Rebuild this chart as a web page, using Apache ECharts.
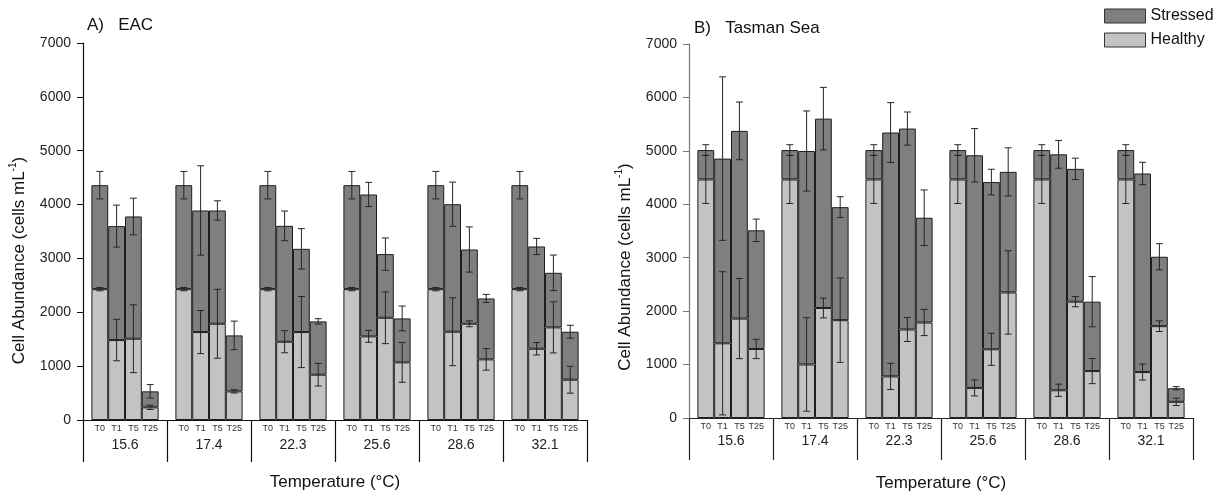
<!DOCTYPE html>
<html>
<head>
<meta charset="utf-8">
<script src="https://cdn.jsdelivr.net/npm/echarts@6/dist/echarts.min.js"></script>
<style>
html,body{margin:0;padding:0;background:#fff;}
#chart{width:1225px;height:497px;}
</style>
</head>
<body>
<div id="chart"></div>
<script>
// ---------- data ----------
const temps = ['15.6', '17.4', '22.3', '25.6', '28.6', '32.1'];
const times = ['T0', 'T1', 'T5', 'T25'];
const yTicks = [0, 1000, 2000, 3000, 4000, 5000, 6000, 7000];

// Panel A: EAC  (rows = time points T0,T1,T5,T25 ; columns = temperatures)
const eacHealthy = [
  [2430, 2430, 2430, 2430, 2430, 2430],
  [1484, 1633, 1453, 1553, 1639, 1323],
  [1509, 1787, 1633, 1898, 1787, 1720],
  [235, 532, 841, 1070, 1126, 748]
];
const eacStressed = [
  [1930, 1930, 1930, 1930, 1930, 1930],
  [2116, 2257, 2152, 2634, 2368, 1899],
  [2270, 2103, 1545, 1182, 1379, 1013],
  [297, 1039, 990, 816, 1131, 891]
];
const eacHealthyErr = [
  [30, 30, 30, 30, 30, 30],
  [385, 400, 205, 110, 630, 115],
  [630, 640, 660, 480, 55, 475],
  [40, 30, 210, 370, 200, 250]
];
const eacTotalErr = [
  [255, 255, 255, 255, 255, 255],
  [390, 830, 275, 225, 410, 150],
  [340, 180, 375, 300, 420, 330],
  [125, 265, 50, 230, 75, 120]
];

// Panel B: Tasman Sea
const tasHealthy = [
  [4465, 4465, 4465, 4465, 4465, 4465],
  [1398, 1002, 779, 563, 519, 860],
  [1861, 2059, 1657, 1286, 2177, 1719],
  [1292, 1831, 1787, 2350, 878, 303]
];
const tasStressed = [
  [550, 550, 550, 550, 550, 550],
  [3457, 3995, 4564, 4354, 4416, 3716],
  [3513, 3544, 3760, 3130, 2486, 1299],
  [2221, 2115, 1961, 2257, 1299, 254]
];
const tasHealthyErr = [
  [450, 450, 450, 450, 450, 450],
  [1340, 875, 245, 150, 115, 150],
  [750, 185, 225, 300, 95, 100],
  [180, 790, 245, 780, 235, 70]
];
const tasTotalErr = [
  [100, 100, 100, 100, 100, 100],
  [1530, 750, 560, 500, 260, 210],
  [540, 585, 310, 240, 200, 245],
  [210, 195, 520, 450, 470, 30]
];

// ---------- chart ----------
const FONT = '"Liberation Sans", Arial, sans-serif';
const HEALTHY_COLOR = '#c3c3c3';
const STRESSED_COLOR = '#7f7f7f';
const BAR_BORDER = '#1e1e1e';
const CAT_GAP = 0.2;

function barSeries(p, healthy, stressed) {
  const out = [];
  for (let k = 0; k < times.length; k++) {
    out.push({
      type: 'bar', name: 'Healthy', stack: 'p' + p + 't' + k,
      xAxisIndex: p, yAxisIndex: p,
      data: healthy[k],
      barGap: '0%', barCategoryGap: (CAT_GAP * 100) + '%',
      itemStyle: { color: HEALTHY_COLOR, borderColor: BAR_BORDER, borderWidth: 1 },
      label: { show: true, position: 'bottom', distance: 4, formatter: times[k],
               fontSize: 9, color: '#333', fontFamily: FONT },
      emphasis: { disabled: true }
    });
    out.push({
      type: 'bar', name: 'Stressed', stack: 'p' + p + 't' + k,
      xAxisIndex: p, yAxisIndex: p,
      data: stressed[k],
      barGap: '0%', barCategoryGap: (CAT_GAP * 100) + '%',
      itemStyle: { color: STRESSED_COLOR, borderColor: BAR_BORDER, borderWidth: 1 },
      emphasis: { disabled: true }
    });
  }
  return out;
}

function errSeries(p, healthy, stressed, hErr, tErr) {
  const data = [];
  for (let k = 0; k < times.length; k++) {
    for (let c = 0; c < temps.length; c++) {
      const h = healthy[k][c];
      const tot = h + stressed[k][c];
      data.push([c, k, h, hErr[k][c]]);
      data.push([c, k, tot, tErr[k][c]]);
    }
  }
  return {
    type: 'custom', xAxisIndex: p, yAxisIndex: p, z: 5, silent: true,
    encode: { x: 0, y: 2 },
    data: data,
    renderItem: function (params, api) {
      const cat = api.value(0), k = api.value(1), v = api.value(2), e = api.value(3);
      const band = api.size([1, 0])[0];
      const bw = band * (1 - CAT_GAP) / times.length;
      const x = api.coord([cat, 0])[0] + (k - (times.length - 1) / 2) * bw;
      const yt = api.coord([cat, v + e])[1];
      const yb = api.coord([cat, v - e])[1];
      const cap = 3.5;
      const st = { stroke: '#262626', lineWidth: 1 };
      return {
        type: 'group',
        children: [
          { type: 'line', shape: { x1: x, y1: yt, x2: x, y2: yb }, style: st },
          { type: 'line', shape: { x1: x - cap, y1: yt, x2: x + cap, y2: yt }, style: st },
          { type: 'line', shape: { x1: x - cap, y1: yb, x2: x + cap, y2: yb }, style: st }
        ]
      };
    }
  };
}

function xAxis(p, gap, lblMargin, color) {
  return {
    type: 'category', gridIndex: p, data: temps,
    axisLine: { show: true, lineStyle: { color: color, width: 1 } },
    axisTick: { show: true, interval: 0, length: 42, lineStyle: { color: color, width: 1.2 } },
    axisLabel: { margin: lblMargin, fontSize: 14, color: '#222', fontFamily: FONT },
    name: 'Temperature (°C)', nameLocation: 'middle', nameGap: gap,
    nameTextStyle: { fontSize: 17, color: '#111', fontFamily: FONT },
    splitLine: { show: false }
  };
}

function yAxis(p, shift, color) {
  return {
    type: 'value', gridIndex: p, min: yTicks[0], max: yTicks[yTicks.length - 1],
    interval: yTicks[1] - yTicks[0],
    axisLine: { show: true, lineStyle: { color: color, width: 1.2 } },
    axisTick: { show: true, length: 6, lineStyle: { color: color } },
    axisLabel: { margin: 12, fontSize: 14, color: '#222', fontFamily: FONT,
                 formatter: function (v) { return String(v); } },
    splitLine: { show: false },
    name: '{a|Cell Abundance (cells mL}{s|-1}{a|)}',
    nameLocation: 'middle', nameGap: 55,
    nameTextStyle: {
      padding: [0, shift, 0, 0],
      rich: {
        a: { fontSize: 17, color: '#111', fontFamily: FONT, lineHeight: 20, verticalAlign: 'bottom' },
        s: { fontSize: 10, color: '#111', fontFamily: FONT, lineHeight: 20, verticalAlign: 'top' }
      }
    }
  };
}

const chart = echarts.init(document.getElementById('chart'), null, { renderer: 'canvas' });
chart.setOption({
  animation: false,
  backgroundColor: '#fff',
  textStyle: { fontFamily: FONT },
  title: [
    { text: 'A)   EAC', left: 87, top: 17, padding: 0,
      textStyle: { fontSize: 17, fontWeight: 'normal', color: '#111', fontFamily: FONT } },
    { text: 'B)   Tasman Sea', left: 694, top: 20, padding: 0,
      textStyle: { fontSize: 17, fontWeight: 'normal', color: '#111', fontFamily: FONT } }
  ],
  legend: {
    data: ['Stressed', 'Healthy'], orient: 'vertical', left: 1104, top: 8, padding: 0,
    icon: 'rect',
    itemWidth: 41, itemHeight: 14, itemGap: 8,
    textStyle: { fontSize: 16, color: '#111', fontFamily: FONT },
    itemStyle: { borderColor: '#333', borderWidth: 1 }
  },
  grid: [
    { left: 83, right: 638, top: 43, bottom: 77 },
    { left: 689, right: 32, top: 44, bottom: 74 }
  ],
  xAxis: [xAxis(0, 54, 18, '#111'), xAxis(1, 57, 16, '#222')],
  yAxis: [yAxis(0, 58, '#111'), yAxis(1, 72, '#777')],
  series: [].concat(
    barSeries(0, eacHealthy, eacStressed),
    barSeries(1, tasHealthy, tasStressed),
    [errSeries(0, eacHealthy, eacStressed, eacHealthyErr, eacTotalErr),
     errSeries(1, tasHealthy, tasStressed, tasHealthyErr, tasTotalErr)]
  )
});
</script>
</body>
</html>
